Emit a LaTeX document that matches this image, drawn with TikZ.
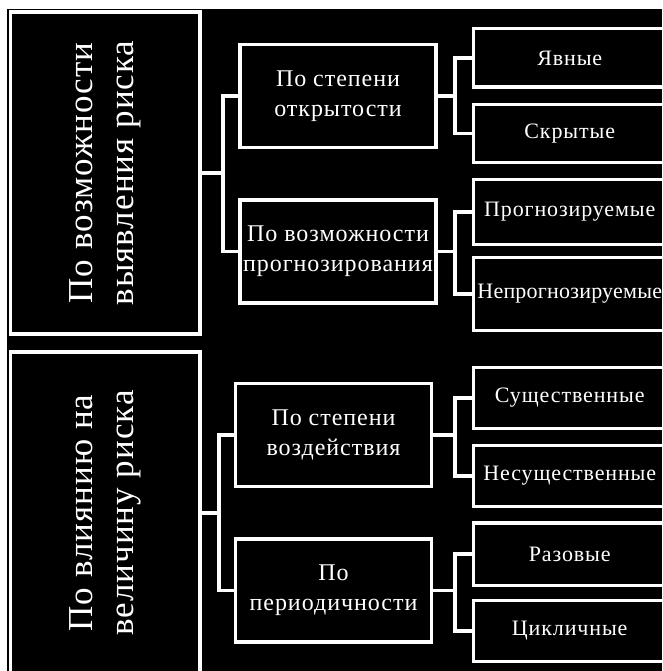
\documentclass[tikz,border=0pt]{standalone}
\usepackage{fontspec}
\setmainfont{Liberation Serif}
\usepackage{tikz}

\begin{document}
\begin{tikzpicture}[
    x=1pt, y=-1pt,
    groupbox/.style={rectangle, draw=white, line width=3.5pt, rotate=90, minimum width=322pt, minimum height=189.5pt, inner sep=2pt, align=center, text=white, font=\fontsize{35}{41}\selectfont\addfontfeature{LetterSpace=3}},
    critbox/.style={rectangle, draw=white, line width=3.5pt, minimum width=196pt, minimum height=103pt, inner sep=1pt, align=center, text=white, font=\fontsize{24}{30}\selectfont\addfontfeature{LetterSpace=4}},
    leafbox/.style={rectangle, draw=white, line width=3.5pt, minimum width=192.5pt, inner sep=0pt, align=center, text=white, font=\fontsize{22}{26}\selectfont\addfontfeature{LetterSpace=4}},
    link/.style={draw=white, line width=3.5pt}
]
\useasboundingbox (0,0) rectangle (662,671);
\clip (0,0) rectangle (662,671);
\fill[white] (0,0) rectangle (662,671);
\fill[black] (7,9) rectangle (662,671);

% left column
\node[groupbox] (g1) at (105.25,173) {По возможности\\выявления риска};
\node[groupbox] (g2) at (105.25,513) {По влиянию на\\величину риска};

% middle column
\node[critbox] (c1) at (338,96) {По степени\\открытости};
\node[critbox] (c2) at (338,251.5) {По возможности\\прогнозирования};
\node[critbox] (c3) at (333.5,435) {По степени\\воздействия};
\node[critbox] (c4) at (333.5,590.5) {По\\периодичности};

% right column
\node[leafbox, minimum height=58.5pt] (t1) at (569.75,58) {Явные};
\node[leafbox, minimum height=58pt] (t2) at (569.75,133.5) {Скрытые};
\node[leafbox, minimum height=65pt] (t3) at (569.75,212) {Прогнозируемые};
\node[leafbox, minimum height=73pt] (t4) at (569.75,294) {\addfontfeature{LetterSpace=1}Непрогнозируемые};
\node[leafbox, minimum height=61pt] (t5) at (569.75,398) {Существенные};
\node[leafbox, minimum height=61pt] (t6) at (569.75,476) {Несущественные};
\node[leafbox, minimum height=62.5pt] (t7) at (569.75,554) {Разовые};
\node[leafbox, minimum height=61pt] (t8) at (569.75,631) {Цикличные};

\coordinate (busA) at (223,0);
\coordinate (busB) at (219,0);
\coordinate (busR) at (455,0);

\foreach \g/\a/\b/\x in {g1/c1/c2/busA, g2/c3/c4/busB} {
    \draw[link] (\g.south) -- (\x |- \g.south);
    \draw[link] (\a.west) -- (\x |- \a.west) -- (\x |- \b.west) -- (\b.west);
}

\foreach \m/\a/\b in {c1/t1/t2, c2/t3/t4, c3/t5/t6, c4/t7/t8} {
    \draw[link] (\m.east) -- (\m.east -| busR);
    \draw[link] (\a.west) -- (busR |- \a.west) -- (busR |- \b.west) -- (\b.west);
}

\end{tikzpicture}
\end{document}
